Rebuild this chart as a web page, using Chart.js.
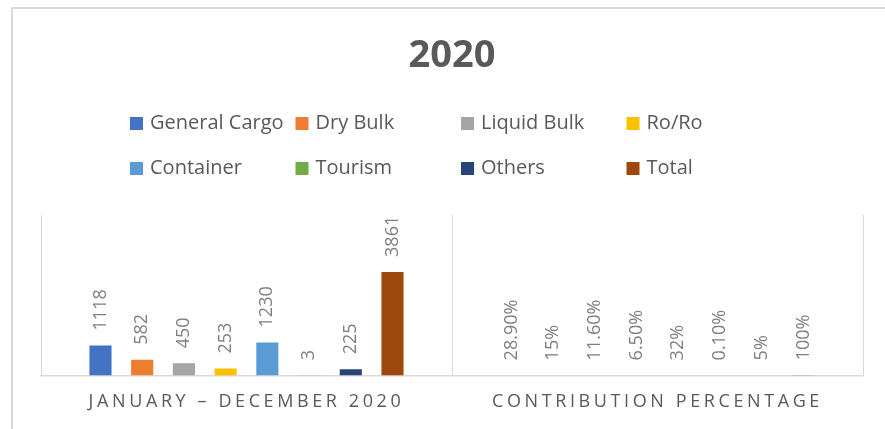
<!DOCTYPE html>
<html>
<head>
<meta charset="utf-8">
<title>2020</title>
<script src="https://cdn.jsdelivr.net/npm/chart.js@4.4.1/dist/chart.umd.min.js"></script>
<style>
  html, body { margin: 0; padding: 0; background: #fff; overflow: hidden; }
  #frame { position: absolute; left: 11px; top: 7px; width: 2000px; height: 2000px; border-top: 2px solid #d9d9d9; border-left: 2px solid #d9d9d9; }
  #chart { position: absolute; left: 0; top: 0; }
</style>
</head>
<body>
<div id="frame"></div>
<canvas id="chart" width="885" height="429"></canvas>
<script>
// categories on the x axis
const categories = ['JANUARY – DECEMBER 2020', 'CONTRIBUTION PERCENTAGE'];

// series names + colours
const seriesNames = ['General Cargo', 'Dry Bulk', 'Liquid Bulk', 'Ro/Ro', 'Container', 'Tourism', 'Others', 'Total'];
const seriesColors = ['#4472c4', '#ed7d31', '#a5a5a5', '#ffc000', '#5b9bd5', '#70ad47', '#264478', '#9e480e'];

// values for Jan - Dec 2020
const callCounts = [1118, 582, 450, 253, 1230, 3, 225, 3861];
// contribution share (as fractions) and how they are printed
const contribution = [0.289, 0.15, 0.116, 0.065, 0.32, 0.001, 0.05, 1];
const contributionLabels = ['28.90%', '15%', '11.60%', '6.50%', '32%', '0.10%', '5%', '100%'];

const datasets = seriesNames.map((name, i) => ({
    label: name,
    data: [callCounts[i], contribution[i]],
    backgroundColor: seriesColors[i],
    borderWidth: 0,
    categoryPercentage: 0.812,
    barPercentage: 0.53
}));

// rotated value labels above every bar
const valueLabels = {
    id: 'valueLabels',
    afterDatasetsDraw(chart) {
        const ctx = chart.ctx;
        chart.data.datasets.forEach((ds, i) => {
            const meta = chart.getDatasetMeta(i);
            meta.data.forEach((bar, j) => {
                const text = j === 0 ? String(ds.data[j]) : contributionLabels[i];
                ctx.save();
                ctx.translate(bar.x, bar.y - 15);
                ctx.rotate(-Math.PI / 2);
                ctx.font = '18px "Open Sans"';
                ctx.fillStyle = '#7f7f7f';
                ctx.textAlign = 'left';
                ctx.textBaseline = 'middle';
                ctx.fillText(text, 0, 0);
                ctx.restore();
            });
        });
    }
};

// legend in a fixed 4 x 2 grid like the spreadsheet one
const gridLegend = {
    id: 'gridLegend',
    afterDraw(chart) {
        const ctx = chart.ctx;
        ctx.save();
        ctx.font = '20px "Open Sans"';
        ctx.textBaseline = 'middle';
        ctx.textAlign = 'left';
        chart.data.datasets.forEach((ds, i) => {
            const x = 130 + (i % 4) * 165.5;
            const y = 123 + Math.floor(i / 4) * 45;
            ctx.fillStyle = ds.backgroundColor;
            ctx.fillRect(x, y - 6, 13, 13);
            ctx.fillStyle = '#595959';
            ctx.fillText(ds.label, x + 20, y);
        });
        ctx.restore();
    }
};

// spaced out category labels
const spacedTicks = {
    id: 'spacedTicks',
    beforeDraw(chart) {
        const s = chart.scales.x;
        if (s._spaced) return;
        const orig = s.drawLabels.bind(s);
        s.drawLabels = (area) => {
            chart.ctx.save();
            chart.ctx.letterSpacing = '3.6px';
            orig(area);
            chart.ctx.restore();
        };
        s._spaced = true;
    }
};

new Chart(document.getElementById('chart'), {
    type: 'bar',
    data: { labels: categories, datasets: datasets },
    options: {
        responsive: false,
        animation: false,
        layout: { padding: { left: 41, right: 22, top: 0, bottom: 0 } },
        plugins: {
            legend: { display: false },
            tooltip: { enabled: false },
            title: {
                display: true,
                text: '2020',
                color: '#595959',
                font: { family: 'Open Sans', size: 38, weight: 'bold', lineHeight: 1.2 },
                padding: { top: 33, bottom: 136 }
            }
        },
        scales: {
            x: {
                grid: { offset: true, drawTicks: false, color: '#d9d9d9', lineWidth: 1 },
                border: { color: '#d9d9d9', width: 1.5 },
                ticks: {
                    padding: 16,
                    color: '#595959',
                    font: { family: 'Open Sans', size: 18 }
                }
            },
            y: { display: false, min: 0, max: 6000 }
        }
    },
    plugins: [valueLabels, gridLegend, spacedTicks]
});
</script>
</body>
</html>
